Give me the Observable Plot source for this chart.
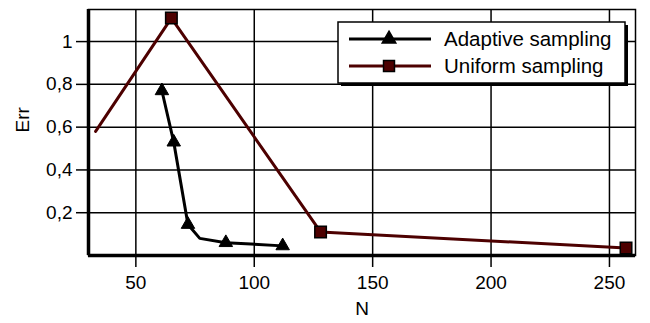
<!DOCTYPE html>
<html><head><meta charset="utf-8">
<script src="https://cdn.jsdelivr.net/npm/d3@7"></script>
<script src="https://cdn.jsdelivr.net/npm/@observablehq/plot@0.6"></script>
<style>body{margin:0;background:#fff}#chart{position:relative;width:650px;height:323px}</style>
</head><body><div id="chart"></div>
<script>
const seriesNames = ["Adaptive sampling", "Uniform sampling"];
const adaptiveN = [61, 66, 72, 77, 88, 112];
const adaptiveErr = [0.77, 0.53, 0.145, 0.08, 0.06, 0.045];
const adaptiveMarked = [true, true, true, false, true, true];
const uniformN = [33, 65, 128, 257];
const uniformErr = [0.58, 1.11, 0.11, 0.035];
const uniformMarked = [false, true, true, true];
const xTicks = [50, 100, 150, 200, 250];
const yTicks = [0.2, 0.4, 0.6, 0.8, 1];

const adaptive = adaptiveN.map((n, i) => ({N: n, Err: adaptiveErr[i], m: adaptiveMarked[i]}));
const uniform = uniformN.map((n, i) => ({N: n, Err: uniformErr[i], m: uniformMarked[i]}));
const maroon = "#4d0000";
const font = "'Liberation Sans', Arial, sans-serif";

const plot = Plot.plot({
  width: 650, height: 323,
  marginLeft: 88, marginRight: 15, marginTop: 9, marginBottom: 68,
  style: {fontFamily: font, fontSize: "19px", color: "#000", background: "#fff"},
  x: {domain: [30, 261]},
  y: {domain: [0, 1.15]},
  marks: [
    Plot.gridX(xTicks, {stroke: "#000", strokeOpacity: 1, strokeWidth: 1.5}),
    Plot.gridY(yTicks, {stroke: "#000", strokeOpacity: 1, strokeWidth: 1.5}),
    Plot.frame({stroke: "#000", strokeWidth: 1.5}),
    Plot.ruleX([30], {stroke: "#000", strokeWidth: 3.5}),
    Plot.ruleY([0], {stroke: "#000", strokeWidth: 3.5}),
    Plot.axisX({ticks: xTicks, tickSize: 12, tickPadding: 8, tickFormat: d => String(d), label: null, strokeWidth: 1.5}),
    Plot.axisY({ticks: yTicks, tickSize: 12, tickPadding: 4, tickFormat: d => String(d).replace(".", ","), label: null, strokeWidth: 1.5}),
    Plot.text(["N"], {frameAnchor: "bottom", dy: 59, text: d => d, fontSize: 19}),
    Plot.text(["Err"], {frameAnchor: "left", dx: -66, rotate: -90, text: d => d, fontSize: 19}),
    Plot.line(uniform, {x: "N", y: "Err", stroke: maroon, strokeWidth: 3}),
    Plot.line(adaptive, {x: "N", y: "Err", stroke: "#000", strokeWidth: 3}),
    Plot.dot(uniform.filter(d => d.m), {x: "N", y: "Err", symbol: "square", r: 6.5, fill: maroon, stroke: "#000", strokeWidth: 1.5}),
    Plot.dot(adaptive.filter(d => d.m), {x: "N", y: "Err", symbol: "triangle", r: 5, fill: "#000", stroke: "#000", strokeWidth: 1})
  ]
});
document.getElementById("chart").appendChild(plot);

// legend
const svg = d3.select(plot);
const lg = svg.append("g").attr("font-family", font).attr("font-size", 20.5).attr("text-anchor", "start");
lg.append("rect").attr("x", 341).attr("y", 25).attr("width", 287).attr("height", 61).attr("fill", "#000");
lg.append("rect").attr("x", 338).attr("y", 22).attr("width", 287).attr("height", 61).attr("fill", "#fff").attr("stroke", "#000").attr("stroke-width", 1.5);
const entries = [
  {name: seriesNames[0], color: "#000", sym: d3.symbolTriangle, fill: "#000", size: 80},
  {name: seriesNames[1], color: maroon, sym: d3.symbolSquare, fill: maroon, size: 120}
];
entries.forEach((e, i) => {
  const y = 39 + i * 27;
  lg.append("line").attr("x1", 349).attr("x2", 431).attr("y1", y).attr("y2", y).attr("stroke", e.color).attr("stroke-width", 3);
  lg.append("path").attr("d", d3.symbol(e.sym, e.size)()).attr("transform", `translate(389,${y})`).attr("fill", e.fill).attr("stroke", "#000").attr("stroke-width", 1.5);
  lg.append("text").attr("x", 444).attr("y", y).attr("dy", "0.35em").attr("text-anchor", "start").text(e.name);
});
</script></body></html>
